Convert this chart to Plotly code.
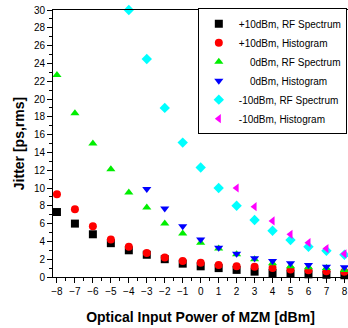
import plotly.graph_objects as go

x = [-8, -7, -6, -5, -4, -3, -2, -1, 0, 1, 2, 3, 4, 5, 6, 7, 8]

rf_p10 = [7.3, 6.0, 4.8, 3.8, 3.0, 2.5, 2.0, 1.5, 1.2, 1.0, 0.8, 0.6, 0.45, 0.35, 0.3, 0.25, 0.2]
hist_p10 = [9.3, 7.6, 5.7, 4.2, 3.4, 2.7, 2.2, 1.8, 1.6, 1.35, 1.2, 1.15, 1.0, 0.85, 0.75, 0.65, 0.6]
rf_0 = [22.7, 18.4, 15.0, 12.1, 9.5, 7.8, 6.0, 4.9, 3.85, 3.2, 2.55, 2.0, 1.55, 1.2, 1.1, 1.0, 0.8]
x_hist_0 = [-3, -2, -1, 0, 1, 2, 3, 4, 5, 6, 7, 8]
hist_0 = [9.9, 7.7, 5.7, 4.2, 3.3, 2.6, 2.1, 1.8, 1.55, 1.35, 1.15, 1.1]
x_rf_m10 = [-4, -3, -2, -1, 0, 1, 2, 3, 4, 5, 6, 7, 8]
rf_m10 = [30.0, 24.5, 19.0, 15.1, 12.3, 10.0, 8.0, 6.4, 5.2, 4.15, 3.4, 2.95, 2.5]
x_hist_m10 = [2, 3, 4, 5, 6, 7, 8]
hist_m10 = [10.0, 7.9, 6.3, 4.8, 3.85, 3.2, 2.6]

NB = "\u00a0"
series = [
    (x, rf_p10, "+10dBm, RF Spectrum", "square", "#000000"),
    (x, hist_p10, "+10dBm, Histogram", "circle", "#ff0000"),
    (x, rf_0, NB * 4 + "0dBm, RF Spectrum", "triangle-up", "#00ee00"),
    (x_hist_0, hist_0, NB * 4 + "0dBm, Histogram", "triangle-down", "#0000ff"),
    (x_rf_m10, rf_m10, "-10dBm, RF Spectrum", "diamond", "#00ffff"),
    (x_hist_m10, hist_m10, "-10dBm, Histogram", "triangle-left", "#ff00ff"),
]

fig = go.Figure()
for xs, ys, name, sym, col in series:
    fig.add_trace(go.Scatter(
        x=xs, y=ys, mode="markers", name=name,
        marker=dict(symbol=sym, color=col, size=8, line=dict(width=0)),
        cliponaxis=False,
    ))

font_fam = "Liberation Sans, Arial"

fig.update_layout(
    width=348, height=328,
    margin=dict(l=53, r=0, t=10, b=51, autoexpand=False),
    paper_bgcolor="white", plot_bgcolor="white",
    font=dict(family=font_fam, size=10, color="black"),
    legend=dict(
        x=0.996, y=1.007, xanchor="right", yanchor="top",
        bordercolor="black", borderwidth=1, bgcolor="white",
        font=dict(family=font_fam, size=10),
        itemwidth=30, tracegroupgap=0,
    ),
    xaxis=dict(
        range=[-8.22, 8.2], tickmode="array", tickvals=list(range(-8, 9)),
        ticks="outside", ticklen=5, tickcolor="black",
        ticklabeloverflow="allow",
        showline=True, linecolor="black", linewidth=1, mirror=True,
        showgrid=False, zeroline=False,
        minor=dict(dtick=0.5, ticks="outside", ticklen=3, tickcolor="black"),
        title=dict(text="<b>Optical Input Power of MZM [dBm]</b>",
                   font=dict(family=font_fam, size=14), standoff=16),
    ),
    yaxis=dict(
        range=[0, 30], dtick=2,
        ticks="outside", ticklen=5, tickcolor="black",
        ticklabeloverflow="allow",
        showline=True, linecolor="black", linewidth=1, mirror=True,
        showgrid=False, zeroline=False,
        minor=dict(dtick=1, ticks="outside", ticklen=3, tickcolor="black"),
        title=dict(text="<b>Jitter [ps,rms]</b>",
                   font=dict(family=font_fam, size=14), standoff=5),
    ),
)

fig.write_html(
    "out.html",
    config={"displayModeBar": False},
    post_script="document.body.style.margin='0';document.body.style.overflow='hidden';",
)
